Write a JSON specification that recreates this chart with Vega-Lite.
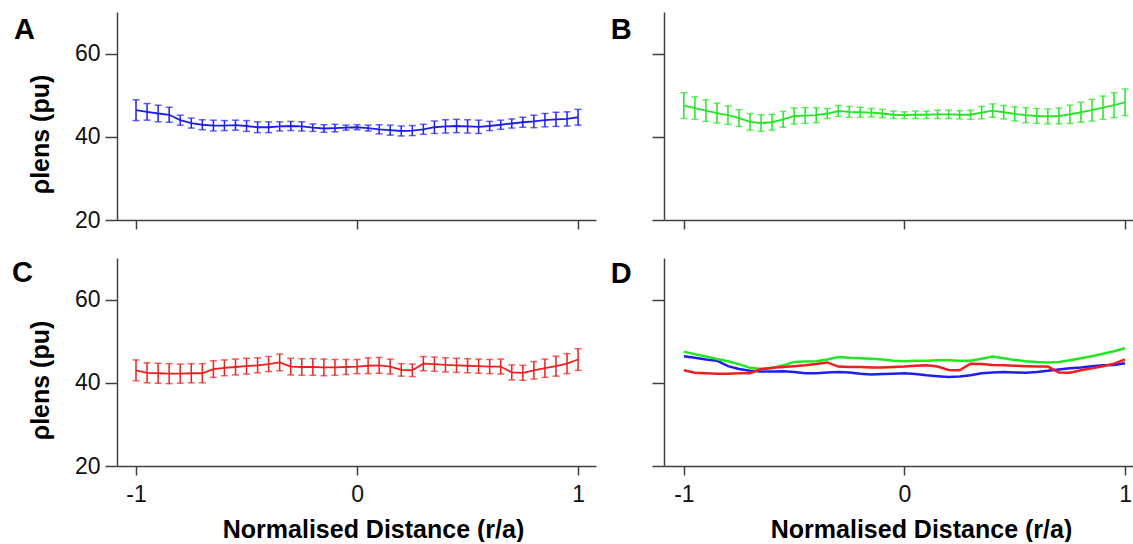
{
"$schema": "https://vega.github.io/schema/vega-lite/v6.json",
"background": "white",
"padding": {"left": 12, "top": 12, "right": 0, "bottom": 0},
"autosize": {"type": "pad"},
"datasets": {"d": [
{"s":"A","x":-1,"v":46.4,"e":2.5},{"s":"A","x":-0.95,"v":46.0,"e":2.0},{"s":"A","x":-0.9,"v":45.6,"e":2.0},{"s":"A","x":-0.85,"v":45.3,"e":1.8},{"s":"A","x":-0.8,"v":44.0,"e":1.2},{"s":"A","x":-0.75,"v":43.3,"e":1.2},{"s":"A","x":-0.7,"v":42.9,"e":1.2},{"s":"A","x":-0.65,"v":42.7,"e":1.3},{"s":"A","x":-0.6,"v":42.7,"e":1.2},{"s":"A","x":-0.55,"v":42.8,"e":1.2},{"s":"A","x":-0.5,"v":42.6,"e":1.3},{"s":"A","x":-0.45,"v":42.3,"e":1.3},{"s":"A","x":-0.4,"v":42.3,"e":1.3},{"s":"A","x":-0.35,"v":42.5,"e":1.1},{"s":"A","x":-0.3,"v":42.6,"e":1.1},{"s":"A","x":-0.25,"v":42.5,"e":1.1},{"s":"A","x":-0.2,"v":42.2,"e":0.9},{"s":"A","x":-0.15,"v":42.0,"e":0.9},{"s":"A","x":-0.1,"v":42.1,"e":0.9},{"s":"A","x":-0.05,"v":42.2,"e":0.6},{"s":"A","x":0,"v":42.3,"e":0.6},{"s":"A","x":0.05,"v":42.1,"e":0.7},{"s":"A","x":0.1,"v":41.8,"e":1.1},{"s":"A","x":0.15,"v":41.6,"e":1.2},{"s":"A","x":0.2,"v":41.4,"e":1.2},{"s":"A","x":0.25,"v":41.5,"e":1.2},{"s":"A","x":0.3,"v":41.8,"e":1.2},{"s":"A","x":0.35,"v":42.3,"e":1.5},{"s":"A","x":0.4,"v":42.5,"e":1.6},{"s":"A","x":0.45,"v":42.6,"e":1.6},{"s":"A","x":0.5,"v":42.5,"e":1.6},{"s":"A","x":0.55,"v":42.4,"e":1.6},{"s":"A","x":0.6,"v":42.6,"e":1.1},{"s":"A","x":0.65,"v":42.9,"e":1.1},{"s":"A","x":0.7,"v":43.2,"e":1.1},{"s":"A","x":0.75,"v":43.5,"e":1.2},{"s":"A","x":0.8,"v":43.7,"e":1.5},{"s":"A","x":0.85,"v":44.0,"e":1.6},{"s":"A","x":0.9,"v":44.2,"e":1.7},{"s":"A","x":0.95,"v":44.3,"e":1.7},{"s":"A","x":1,"v":44.7,"e":1.9},
{"s":"B","x":-1,"v":47.5,"e":3.1},{"s":"B","x":-0.95,"v":46.9,"e":2.7},{"s":"B","x":-0.9,"v":46.3,"e":2.6},{"s":"B","x":-0.85,"v":45.7,"e":2.4},{"s":"B","x":-0.8,"v":45.2,"e":2.2},{"s":"B","x":-0.75,"v":44.5,"e":2.0},{"s":"B","x":-0.7,"v":43.6,"e":2.0},{"s":"B","x":-0.65,"v":43.3,"e":2.0},{"s":"B","x":-0.6,"v":43.5,"e":1.9},{"s":"B","x":-0.55,"v":44.2,"e":1.9},{"s":"B","x":-0.5,"v":45.0,"e":1.9},{"s":"B","x":-0.45,"v":45.1,"e":1.9},{"s":"B","x":-0.4,"v":45.2,"e":1.8},{"s":"B","x":-0.35,"v":45.6,"e":1.2},{"s":"B","x":-0.3,"v":46.2,"e":1.3},{"s":"B","x":-0.25,"v":46.0,"e":1.3},{"s":"B","x":-0.2,"v":45.9,"e":1.2},{"s":"B","x":-0.15,"v":45.8,"e":1.0},{"s":"B","x":-0.1,"v":45.6,"e":1.0},{"s":"B","x":-0.05,"v":45.3,"e":0.9},{"s":"B","x":0,"v":45.2,"e":0.8},{"s":"B","x":0.05,"v":45.3,"e":0.9},{"s":"B","x":0.1,"v":45.3,"e":0.9},{"s":"B","x":0.15,"v":45.4,"e":1.0},{"s":"B","x":0.2,"v":45.4,"e":1.0},{"s":"B","x":0.25,"v":45.3,"e":1.0},{"s":"B","x":0.3,"v":45.3,"e":1.1},{"s":"B","x":0.35,"v":45.8,"e":1.5},{"s":"B","x":0.4,"v":46.3,"e":1.6},{"s":"B","x":0.45,"v":45.9,"e":1.6},{"s":"B","x":0.5,"v":45.5,"e":1.7},{"s":"B","x":0.55,"v":45.2,"e":1.8},{"s":"B","x":0.6,"v":45.0,"e":1.8},{"s":"B","x":0.65,"v":44.9,"e":1.8},{"s":"B","x":0.7,"v":45.0,"e":1.9},{"s":"B","x":0.75,"v":45.4,"e":2.2},{"s":"B","x":0.8,"v":45.9,"e":2.4},{"s":"B","x":0.85,"v":46.4,"e":2.6},{"s":"B","x":0.9,"v":47.0,"e":2.8},{"s":"B","x":0.95,"v":47.6,"e":3.0},{"s":"B","x":1,"v":48.3,"e":3.2},
{"s":"C","x":-1,"v":43.0,"e":2.5},{"s":"C","x":-0.95,"v":42.4,"e":2.4},{"s":"C","x":-0.9,"v":42.3,"e":2.4},{"s":"C","x":-0.85,"v":42.2,"e":2.4},{"s":"C","x":-0.8,"v":42.2,"e":2.3},{"s":"C","x":-0.75,"v":42.3,"e":2.3},{"s":"C","x":-0.7,"v":42.3,"e":2.3},{"s":"C","x":-0.65,"v":43.3,"e":2.0},{"s":"C","x":-0.6,"v":43.6,"e":1.9},{"s":"C","x":-0.55,"v":43.8,"e":1.9},{"s":"C","x":-0.5,"v":44.0,"e":1.9},{"s":"C","x":-0.45,"v":44.2,"e":1.8},{"s":"C","x":-0.4,"v":44.5,"e":1.8},{"s":"C","x":-0.35,"v":44.9,"e":2.0},{"s":"C","x":-0.3,"v":43.9,"e":2.0},{"s":"C","x":-0.25,"v":43.8,"e":2.0},{"s":"C","x":-0.2,"v":43.8,"e":2.0},{"s":"C","x":-0.15,"v":43.7,"e":2.0},{"s":"C","x":-0.1,"v":43.7,"e":1.9},{"s":"C","x":-0.05,"v":43.8,"e":1.8},{"s":"C","x":0,"v":43.9,"e":1.7},{"s":"C","x":0.05,"v":44.1,"e":1.9},{"s":"C","x":0.1,"v":44.2,"e":1.9},{"s":"C","x":0.15,"v":43.9,"e":1.8},{"s":"C","x":0.2,"v":43.1,"e":1.5},{"s":"C","x":0.25,"v":43.0,"e":1.5},{"s":"C","x":0.3,"v":44.6,"e":1.7},{"s":"C","x":0.35,"v":44.5,"e":1.7},{"s":"C","x":0.4,"v":44.3,"e":1.7},{"s":"C","x":0.45,"v":44.2,"e":1.7},{"s":"C","x":0.5,"v":44.1,"e":1.7},{"s":"C","x":0.55,"v":44.0,"e":1.7},{"s":"C","x":0.6,"v":43.9,"e":1.7},{"s":"C","x":0.65,"v":43.9,"e":1.8},{"s":"C","x":0.7,"v":42.5,"e":1.8},{"s":"C","x":0.75,"v":42.4,"e":1.8},{"s":"C","x":0.8,"v":43.0,"e":2.1},{"s":"C","x":0.85,"v":43.5,"e":2.2},{"s":"C","x":0.9,"v":44.0,"e":2.4},{"s":"C","x":0.95,"v":44.6,"e":2.4},{"s":"C","x":1,"v":45.6,"e":2.6}
],
"labels": [{"panel": "A"}, {"panel": "B"}, {"panel": "C"}, {"panel": "D"}]
},
"data": {"name": "d"},
"columns": 2,
"spacing": {"row": 38, "column": 68},
"bounds": "flush",
"resolve": {"scale": {"x": "independent", "y": "independent"}},
"concat": [
{
 "width": 479, "height": 208,
 "layer": [
  {"transform": [{"filter": "datum.s === 'A'"}], "mark": {"type": "line", "color": "#1e1ef0", "strokeWidth": 1.8},
   "encoding": {
    "x": {"field": "x", "type": "quantitative", "title": null, "scale": {"domain": [-1.086, 1.081], "nice": false, "zero": false}, "axis": {"values": [-1, 0, 1], "labels": false, "title": null, "tickSize": 9}},
    "y": {"field": "v", "type": "quantitative", "title": "ρlens (pu)", "scale": {"domain": [20, 70], "nice": false, "zero": false}, "axis": {"values": [20, 40, 60], "tickSize": 12, "labelFontSize": 23, "labelPadding": 5, "title": "ρlens (pu)", "titleFontSize": 25, "titleFontWeight": "bold", "titleX": -77, "titleY": 122, "titleBaseline": "middle", "titleAlign": "center", "titleAngle": -90}}
   }},
  {"transform": [{"filter": "datum.s === 'A'"}], "mark": {"type": "errorbar", "color": "#1e1ef0", "thickness": 1.5, "ticks": {"size": 7, "thickness": 1.5}},
   "encoding": {"x": {"field": "x", "type": "quantitative", "title": null}, "y": {"field": "v", "type": "quantitative", "title": "ρlens (pu)"}, "yError": {"field": "e"}}},
  {"data": {"name": "labels"}, "transform": [{"filter": "datum.panel === 'A'"}], "mark": {"type": "text", "align": "left", "baseline": "alphabetic", "fontSize": 29, "fontWeight": "bold", "font": "Liberation Sans", "color": "#000000"},
   "encoding": {"text": {"field": "panel", "type": "nominal"}, "x": {"datum": -1.552, "type": "quantitative", "title": null}, "y": {"datum": 63.4, "type": "quantitative", "title": "ρlens (pu)"}}}
 ]
},
{
 "width": 471, "height": 208,
 "layer": [
  {"transform": [{"filter": "datum.s === 'B'"}], "mark": {"type": "line", "color": "#22e622", "strokeWidth": 1.8},
   "encoding": {
    "x": {"field": "x", "type": "quantitative", "title": null, "scale": {"domain": [-1.09, 1.045], "nice": false, "zero": false}, "axis": {"values": [-1, 0, 1], "labels": false, "title": null, "tickSize": 9}},
    "y": {"field": "v", "type": "quantitative", "title": null, "scale": {"domain": [20, 70], "nice": false, "zero": false}, "axis": {"values": [20, 40, 60], "tickSize": 12, "labels": false, "title": null}}
   }},
  {"transform": [{"filter": "datum.s === 'B'"}], "mark": {"type": "errorbar", "color": "#22e622", "thickness": 1.5, "ticks": {"size": 7, "thickness": 1.5}},
   "encoding": {"x": {"field": "x", "type": "quantitative", "title": null}, "y": {"field": "v", "type": "quantitative", "title": null}, "yError": {"field": "e"}}},
  {"data": {"name": "labels"}, "transform": [{"filter": "datum.panel === 'B'"}], "mark": {"type": "text", "align": "left", "baseline": "alphabetic", "fontSize": 29, "fontWeight": "bold", "font": "Liberation Sans", "color": "#000000"},
   "encoding": {"text": {"field": "panel", "type": "nominal"}, "x": {"datum": -1.331, "type": "quantitative", "title": null}, "y": {"datum": 63.4, "type": "quantitative", "title": null}}}
 ]
},
{
 "width": 479, "height": 208,
 "layer": [
  {"transform": [{"filter": "datum.s === 'C'"}], "mark": {"type": "line", "color": "#f01e1e", "strokeWidth": 1.8},
   "encoding": {
    "x": {"field": "x", "type": "quantitative", "title": "Normalised Distance (r/a)", "scale": {"domain": [-1.086, 1.081], "nice": false, "zero": false}, "axis": {"values": [-1, 0, 1], "format": "d", "tickSize": 9, "labelFontSize": 23, "labelPadding": 8, "labelExpr": "replace(datum.label, '−', '-')", "title": "Normalised Distance (r/a)", "titleFontSize": 25, "titleFontWeight": "bold", "titleX": 256, "titleY": 71, "titleBaseline": "alphabetic", "titleAlign": "center"}},
    "y": {"field": "v", "type": "quantitative", "title": "ρlens (pu)", "scale": {"domain": [20, 70], "nice": false, "zero": false}, "axis": {"values": [20, 40, 60], "tickSize": 12, "labelFontSize": 23, "labelPadding": 5, "title": "ρlens (pu)", "titleFontSize": 25, "titleFontWeight": "bold", "titleX": -77, "titleY": 122, "titleBaseline": "middle", "titleAlign": "center", "titleAngle": -90}}
   }},
  {"transform": [{"filter": "datum.s === 'C'"}], "mark": {"type": "errorbar", "color": "#f01e1e", "thickness": 1.5, "ticks": {"size": 7, "thickness": 1.5}},
   "encoding": {"x": {"field": "x", "type": "quantitative", "title": "Normalised Distance (r/a)"}, "y": {"field": "v", "type": "quantitative", "title": "ρlens (pu)"}, "yError": {"field": "e"}}},
  {"data": {"name": "labels"}, "transform": [{"filter": "datum.panel === 'C'"}], "mark": {"type": "text", "align": "left", "baseline": "alphabetic", "fontSize": 29, "fontWeight": "bold", "font": "Liberation Sans", "color": "#000000"},
   "encoding": {"text": {"field": "panel", "type": "nominal"}, "x": {"datum": -1.561, "type": "quantitative", "title": "Normalised Distance (r/a)"}, "y": {"datum": 64.2, "type": "quantitative", "title": "ρlens (pu)"}}}
 ]
},
{
 "width": 471, "height": 208,
 "layer": [
  {"mark": {"type": "line", "strokeWidth": 2.5},
   "encoding": {
    "x": {"field": "x", "type": "quantitative", "title": "Normalised Distance (r/a)", "scale": {"domain": [-1.09, 1.045], "nice": false, "zero": false}, "axis": {"values": [-1, 0, 1], "format": "d", "tickSize": 9, "labelFontSize": 23, "labelPadding": 8, "labelExpr": "replace(datum.label, '−', '-')", "title": "Normalised Distance (r/a)", "titleFontSize": 25, "titleFontWeight": "bold", "titleX": 257, "titleY": 71, "titleBaseline": "alphabetic", "titleAlign": "center"}},
    "y": {"field": "v", "type": "quantitative", "title": null, "scale": {"domain": [20, 70], "nice": false, "zero": false}, "axis": {"values": [20, 40, 60], "tickSize": 12, "labels": false, "title": null}},
    "color": {"field": "s", "type": "nominal", "scale": {"domain": ["A", "B", "C"], "range": ["#1e1ef0", "#22e622", "#f01e1e"]}, "legend": null}
   }},
  {"data": {"name": "labels"}, "transform": [{"filter": "datum.panel === 'D'"}], "mark": {"type": "text", "align": "left", "baseline": "alphabetic", "fontSize": 29, "fontWeight": "bold", "font": "Liberation Sans", "color": "#000000"},
   "encoding": {"text": {"field": "panel", "type": "nominal"}, "x": {"datum": -1.331, "type": "quantitative", "title": "Normalised Distance (r/a)"}, "y": {"datum": 64.0, "type": "quantitative", "title": null}}}
 ]
}
],
"config": {
 "view": {"stroke": null},
 "font": "Liberation Sans",
 "axis": {"grid": false, "domainColor": "#404040", "tickColor": "#404040", "domainWidth": 1.5, "tickWidth": 1.5, "labelColor": "#111111", "titleColor": "#000000", "labelFont": "Liberation Sans", "titleFont": "Liberation Sans"}
}
}
